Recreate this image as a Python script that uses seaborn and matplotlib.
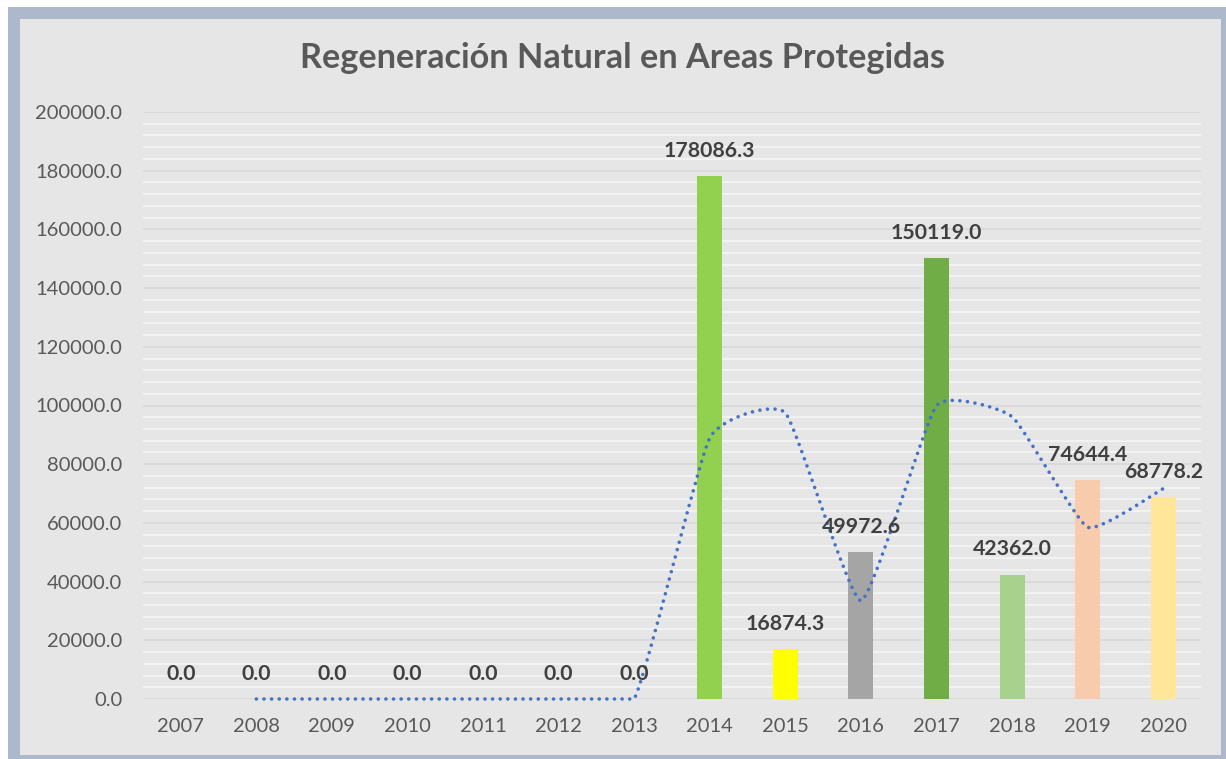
import numpy as np
import pandas as pd
import seaborn as sns
import matplotlib.pyplot as plt
from matplotlib.patches import Rectangle
from matplotlib.ticker import MultipleLocator, FormatStrFormatter

# Datos
anios = ["2007", "2008", "2009", "2010", "2011", "2012", "2013",
         "2014", "2015", "2016", "2017", "2018", "2019", "2020"]
superficie = [0.0, 0.0, 0.0, 0.0, 0.0, 0.0, 0.0,
              178086.3, 16874.3, 49972.6, 150119.0, 42362.0, 74644.4, 68778.2]
colores = ["#5b9bd5", "#ed7d31", "#a5a5a5", "#ffc000", "#4472c4", "#70ad47", "#264478",
           "#92d050", "#ffff00", "#a5a5a5", "#70ad47", "#a9d18e", "#f8cbad", "#ffe699"]
# linea de tendencia (media movil), desde 2008
tendencia = [0.0, 0.0, 0.0, 0.0, 0.0, 0.0,
             89000.0, 97500.0, 33400.0, 100000.0, 96200.0, 58500.0, 71700.0]

df = pd.DataFrame({"anio": anios, "valor": superficie})

sns.set_style("white")
plt.rcParams["font.family"] = ["Lato", "DejaVu Sans"]

fig = plt.figure(figsize=(12.26, 7.59), dpi=100)
fig.patch.set_facecolor("white")
W, H = 1226, 759
fig.patches.append(Rectangle((8 / W, 0), 1 - 8 / W, 1 - 7 / H, transform=fig.transFigure,
                             facecolor="#adb9ca", edgecolor="none", zorder=-2))
fig.patches.append(Rectangle((20 / W, 4 / H), 1201 / W, 736 / H, transform=fig.transFigure,
                             facecolor="#e7e6e6", edgecolor="none", zorder=-1))

ax = fig.add_axes([143 / W, 1 - 699 / H, (1201 - 143) / W, (699 - 112) / H])
ax.set_facecolor("#e7e6e6")

sns.barplot(data=df, x="anio", y="valor", hue="anio", palette=colores,
            legend=False, width=0.33, saturation=1, linewidth=0, ax=ax, zorder=3)

# linea punteada (tendencia), ligeramente suavizada
xs = np.arange(1, len(anios))
ys = np.array(tendencia)
px = np.concatenate([[xs[0]], xs, [xs[-1]]])
py = np.concatenate([[ys[0]], ys, [ys[-1]]])
cx, cy = [], []
t = np.linspace(0, 1, 20)
for i in range(1, len(px) - 2):
    p0 = np.array([px[i - 1], py[i - 1]]); p1 = np.array([px[i], py[i]])
    p2 = np.array([px[i + 1], py[i + 1]]); p3 = np.array([px[i + 2], py[i + 2]])
    c1 = p1 + (p2 - p0) / 14
    c2 = p2 - (p3 - p1) / 14
    c1[1] = max(c1[1], 0); c2[1] = max(c2[1], 0)
    b = ((1 - t) ** 3)[:, None] * p1 + (3 * (1 - t) ** 2 * t)[:, None] * c1 \
        + (3 * (1 - t) * t ** 2)[:, None] * c2 + (t ** 3)[:, None] * p2
    cx.extend(b[:, 0]); cy.extend(b[:, 1])
ax.plot(cx, cy, color="#4472c4", linewidth=2.6, linestyle=(0, (0.01, 2.1)),
        dash_capstyle="round", zorder=4, clip_on=False)

# etiquetas
for i, v in enumerate(superficie):
    ax.annotate(f"{v:.1f}", (i, v), xytext=(0, 11), textcoords="offset points",
                ha="center", va="bottom", fontsize=15.3, fontweight="bold",
                color="#404040", zorder=5)

ax.set_ylim(0, 200000)
ax.set_xlim(-0.5, len(anios) - 0.5)
ax.yaxis.set_major_locator(MultipleLocator(20000))
ax.yaxis.set_minor_locator(MultipleLocator(4000))
ax.yaxis.set_major_formatter(FormatStrFormatter("%.1f"))
ax.grid(axis="y", which="major", color="#d9d9d9", linewidth=1.3, zorder=0)
ax.grid(axis="y", which="minor", color="#f4f4f4", linewidth=1.3, zorder=0)
ax.set_axisbelow(True)
ax.tick_params(axis="y", which="both", length=0, pad=15, labelsize=14.5, labelcolor="#595959")
ax.tick_params(axis="x", length=0, pad=14, labelsize=14.5, labelcolor="#595959")
ax.set_xlabel("")
ax.set_ylabel("")
sns.despine(ax=ax, left=True, bottom=True)

fig.text(622 / W, 1 - 58 / H, "Regeneración Natural en Areas Protegidas", ha="center", va="center",
         fontsize=24.7, fontweight="bold", color="#595959")

fig.savefig("out.png", dpi=100, facecolor=fig.get_facecolor())
